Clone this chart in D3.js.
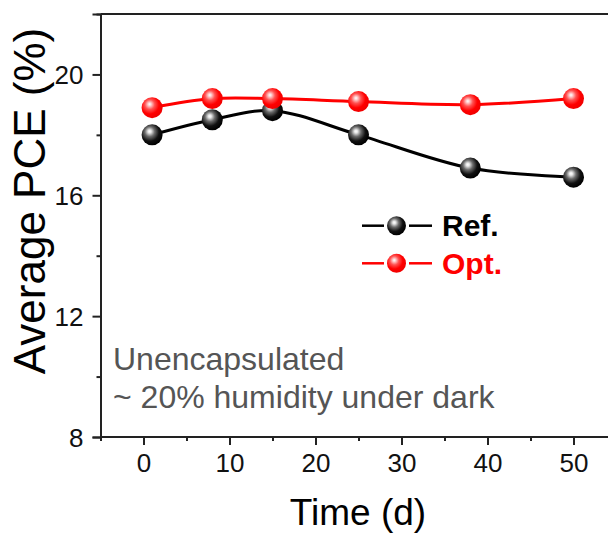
<!DOCTYPE html>
<html><head><meta charset="utf-8">
<script src="https://cdn.jsdelivr.net/npm/d3@7"></script>
<style>body{margin:0;background:#fff}svg{display:block}text{font-family:"Liberation Sans",Arial,sans-serif}</style>
</head><body>
<script>
const days = [1, 8, 15, 25, 38, 50];
const refPCE = [18.0, 18.5, 18.8, 18.0, 16.9, 16.6];
const optPCE = [18.9, 19.2, 19.2, 19.1, 19.0, 19.2];
const seriesNames = ["Ref.", "Opt."];
const xTicks = [0, 10, 20, 30, 40, 50];
const xMinor = [-5, 5, 15, 25, 35, 45, 55];
const yTicks = [8, 12, 16, 20];
const yMinor = [10, 14, 18, 22];
const noteLines = ["Unencapsulated", "~ 20% humidity under dark"];

const W = 608, H = 533;
const svg = d3.select("body").append("svg").attr("width", W).attr("height", H);
const x = d3.scaleLinear().domain([-5, 55]).range([100.5, 616.5]);
const y = d3.scaleLinear().domain([8, 22]).range([437, 14]);
const axisColor = "#222";

const defs = svg.append("defs");
function grad(id, stops) {
  const g = defs.append("radialGradient").attr("id", id)
    .attr("cx", 0.4).attr("cy", 0.38).attr("r", 0.62).attr("fx", 0.38).attr("fy", 0.33);
  stops.forEach(s => g.append("stop").attr("offset", s[0]).attr("stop-color", s[1]));
}
grad("gBlack", [[0, "#ffffff"], [0.12, "#e8e8e8"], [0.38, "#6a6a6a"], [0.7, "#111"], [1, "#000"]]);
grad("gRed", [[0, "#ffffff"], [0.12, "#ffd0d0"], [0.38, "#ff5050"], [0.7, "#ff0000"], [1, "#f00000"]]);

// axes
const xAxis = svg.append("g").attr("transform", `translate(0,${y(8)})`)
  .call(d3.axisBottom(x).tickValues(xTicks).tickSize(8).tickFormat(d3.format("d")));
const xAxisMinor = svg.append("g").attr("transform", `translate(0,${y(8)})`)
  .call(d3.axisBottom(x).tickValues(xMinor).tickSize(4).tickFormat(""));
const yAxis = svg.append("g").attr("transform", `translate(${x(-5)},0)`)
  .call(d3.axisLeft(y).tickValues(yTicks).tickSize(8).tickFormat(d3.format("d")));
const yAxisMinor = svg.append("g").attr("transform", `translate(${x(-5)},0)`)
  .call(d3.axisLeft(y).tickValues(yMinor).tickSize(4).tickFormat(""));
[xAxis, xAxisMinor, yAxis, yAxisMinor].forEach(a => {
  a.select(".domain").attr("stroke", axisColor).attr("stroke-width", 2);
  a.selectAll(".tick line").attr("stroke", axisColor).attr("stroke-width", 2);
  a.selectAll("text").attr("fill", "#111").style("font-size", "26px").attr("font-family", "Liberation Sans, Arial, sans-serif");
});
xAxisMinor.select(".domain").remove();
yAxisMinor.select(".domain").remove();
xAxis.select(".domain").attr("d", `M${x(-5)},0H${W}`);
xAxis.selectAll("text").attr("dy", "0").attr("y", 35);
yAxis.selectAll("text").attr("x", -17).attr("dy", "0.35em");
// top frame line
svg.append("line").attr("x1", x(-5)).attr("x2", W).attr("y1", y(22)).attr("y2", y(22))
  .attr("stroke", axisColor).attr("stroke-width", 2);

// titles
svg.append("text").attr("x", 358).attr("y", 525).attr("text-anchor", "middle")
  .style("font-size", "37px").attr("fill", "#000").text("Time (d)");
svg.append("text").attr("transform", "translate(45,201) rotate(-90)").attr("text-anchor", "middle")
  .style("font-size", "44px").attr("fill", "#000").text("Average PCE (%)");

// note
svg.append("g").selectAll("text").data(noteLines).join("text")
  .attr("x", 113).attr("y", (d, i) => 370 + i * 38)
  .style("font-size", "32px").attr("fill", "#555").text(d => d);

// series
const series = [
  {name: seriesNames[0], vals: refPCE, color: "#000", g: "url(#gBlack)"},
  {name: seriesNames[1], vals: optPCE, color: "#ff0000", g: "url(#gRed)"}
];
const line = d3.line().x(d => x(d[0])).y(d => y(d[1])).curve(d3.curveCatmullRom.alpha(0.5));
series.forEach(s => {
  const pts = days.map((d, i) => [d, s.vals[i]]);
  svg.append("path").datum(pts).attr("d", line).attr("fill", "none")
    .attr("stroke", s.color).attr("stroke-width", 3);
  svg.append("g").selectAll("circle").data(pts).join("circle")
    .attr("cx", d => x(d[0])).attr("cy", d => y(d[1])).attr("r", 10.5).attr("fill", s.g);
});

// legend
const leg = svg.append("g");
series.forEach((s, i) => {
  const cy = 225.7 + i * 37.6;
  leg.append("line").attr("x1", 362).attr("x2", 384).attr("y1", cy).attr("y2", cy).attr("stroke", s.color).attr("stroke-width", 2.5);
  leg.append("line").attr("x1", 409).attr("x2", 432).attr("y1", cy).attr("y2", cy).attr("stroke", s.color).attr("stroke-width", 2.5);
  leg.append("circle").attr("cx", 396.5).attr("cy", cy).attr("r", 9.5).attr("fill", s.g);
  leg.append("text").attr("x", 442).attr("y", cy + 10.5).style("font-size", "30px").style("font-weight", "bold")
    .attr("fill", s.color).text(s.name);
});
</script>
</body></html>
